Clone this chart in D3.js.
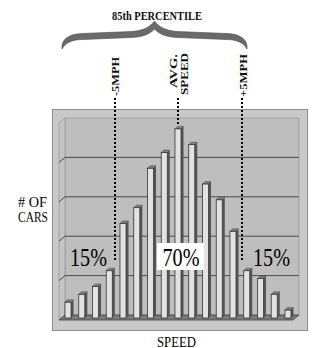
<!DOCTYPE html>
<html>
<head>
<meta charset="utf-8">
<script src="https://cdn.jsdelivr.net/npm/d3@7"></script>
<style>
  body { margin: 0; background: #fff; }
  svg { display: block; font-family: "Liberation Serif", "DejaVu Serif", serif; }
</style>
</head>
<body>
<div class="chart"></div>
<script>
// chart data
const speedBins = d3.range(1, 18).map(String);
const carCounts = [4, 6, 8, 12, 24, 28, 38, 42, 48, 44, 34, 30, 22, 12, 10, 6, 2];
const gridTicks = [0, 10, 20, 30, 40, 50];
const markerLabels = [["-5MPH"], ["AVG.", "SPEED"], ["+5MPH"]];
const markerPos = [3.45, 8, 12.65];   // position in bar units
const shareLabels = ["15%", "70%", "15%"];

const width = 312, height = 348;
const svg = d3.select(".chart").append("svg")
    .attr("width", width)
    .attr("height", height);

// scales
const xScale = d3.scaleBand()
    .domain(speedBins)
    .range([65, 291])
    .paddingInner(0.56)
    .paddingOuter(0);
const yScale = d3.scaleLinear()
    .domain([0, 50])
    .range([320, 123]);
const dx = 6, dy = 5; // depth of the 3d box
const bw = xScale.bandwidth();
const cx = t => Math.round(xScale(speedBins[0]) + bw / 2 + t * xScale.step());

// outer gray panel
svg.append("rect")
    .attr("x", 52.5).attr("y", 109.5)
    .attr("width", 255).attr("height", 221)
    .attr("fill", "#c9c9c9")
    .attr("stroke", "#8c8c8c");

const wallL = 65 - dx, wallR = 299;
// back wall
svg.append("rect")
    .attr("x", 65).attr("y", yScale(50) - dy)
    .attr("width", wallR - 65).attr("height", yScale(0) - yScale(50))
    .attr("fill", "#bebebe")
    .attr("stroke", "#9a9a9a")
    .attr("stroke-width", 0.8);
// left side wall
svg.append("path")
    .attr("d", `M${wallL},${yScale(50)}L65,${yScale(50) - dy}L65,${yScale(0) - dy}L${wallL},${yScale(0)}Z`)
    .attr("fill", "#c4c4c4")
    .attr("stroke", "#9a9a9a")
    .attr("stroke-width", 0.8);

// gridlines
const grid = svg.append("g").attr("class", "grid");
grid.selectAll(".gl").data(gridTicks.slice(1, -1)).enter()
    .append("path")
    .attr("class", "gl")
    .attr("d", d => `M${wallL},${yScale(d)}L65,${yScale(d) - dy}L${wallR},${yScale(d) - dy}`)
    .attr("fill", "none")
    .attr("stroke", "#4a4a4a")
    .attr("stroke-width", 1);

// floor
svg.append("path")
    .attr("d", `M${wallL},${yScale(0)}L65,${yScale(0) - dy}L${wallR},${yScale(0) - dy}L${wallR - dx},${yScale(0)}Z`)
    .attr("fill", "#7a7a7a")
    .attr("stroke", "#444")
    .attr("stroke-width", 0.8);

// dotted marker lines (behind text, through the box)
const markers = svg.append("g").attr("class", "markers");
markers.selectAll("line").data(markerPos).enter()
    .append("line")
    .attr("x1", d => cx(d)).attr("x2", d => cx(d))
    .attr("y1", 98)
    .attr("y2", (d, i) => i === 1 ? yScale(carCounts[8]) - 6 : 262)
    .attr("stroke", "#000")
    .attr("stroke-width", 2)
    .attr("stroke-dasharray", "2,2");

// bars (3d columns)
const by = v => yScale(v) - 2;
const bd = 2.5; // bar depth
const bars = svg.append("g").attr("class", "bars")
    .selectAll("g").data(speedBins.map((b, i) => ({ bin: b, v: carCounts[i] }))).enter()
    .append("g");
bars.append("path")
    .attr("d", d => {
        const x = xScale(d.bin);
        return `M${x + bw},${by(d.v)}L${x + bw + bd},${by(d.v) - bd}L${x + bw + bd},${by(0) - bd}L${x + bw},${by(0)}Z`;
    })
    .attr("fill", "#555");
bars.append("path")
    .attr("d", d => {
        const x = xScale(d.bin);
        return `M${x},${by(d.v)}L${x + bd},${by(d.v) - bd}L${x + bw + bd},${by(d.v) - bd}L${x + bw},${by(d.v)}Z`;
    })
    .attr("fill", "#808080")
    .attr("stroke", "#444")
    .attr("stroke-width", 0.5);
bars.append("rect")
    .attr("x", d => xScale(d.bin))
    .attr("y", d => by(d.v))
    .attr("width", bw)
    .attr("height", d => by(0) - by(d.v))
    .attr("fill", "#e2e2e2")
    .attr("stroke", "#333")
    .attr("stroke-width", 0.8);

// share labels
const shareX = [88.5, 181, 271.5];
svg.append("rect")
    .attr("x", 157).attr("y", 243)
    .attr("width", 47).attr("height", 27)
    .attr("fill", "#fff");
svg.selectAll(".share").data(shareLabels).enter()
    .append("text")
    .attr("class", "share")
    .attr("x", (d, i) => shareX[i])
    .attr("y", 265.5)
    .attr("text-anchor", "middle")
    .attr("font-size", 26)
    .attr("textLength", 37)
    .attr("lengthAdjust", "spacingAndGlyphs")
    .attr("fill", "#000")
    .text(d => d);

// rotated marker labels
const mlab = svg.append("g").attr("class", "marker-labels");
const labLayout = [
    [{ x: 119, y: 96, len: 39 }],
    [{ x: 176.5, y: 88, len: 34 }, { x: 187.5, y: 95, len: 42 }],
    [{ x: 247, y: 97, len: 43 }]
];
markerLabels.forEach((lines, i) => {
    lines.forEach((t, j) => {
        const p = labLayout[i][j];
        mlab.append("text")
            .attr("transform", `translate(${p.x},${p.y}) rotate(-90)`)
            .attr("font-size", 11)
            .attr("font-weight", "bold")
            .attr("textLength", p.len)
            .attr("lengthAdjust", "spacingAndGlyphs")
            .attr("fill", "#111")
            .text(t);
    });
});

// brace and title
svg.append("path")
    .attr("d", "M62,49C61,40 68,34 82,33.5L132,31.5C144,30.5 150,27 154.5,21C159,27 165,30.5 177,31.5L227,33.5C241,34 248,40 247,49C243,42 236,39.5 226,39.5L178,37.5C166,37 159,34 154.5,29C150,34 143,37 131,37.5L83,39.5C73,39.5 66,42 62,49Z")
    .attr("fill", "#6a6a6a")
    .attr("stroke", "#4a4a4a")
    .attr("stroke-width", 0.6);
svg.append("text")
    .attr("x", 157).attr("y", 19.5)
    .attr("text-anchor", "middle")
    .attr("font-size", 11.5)
    .attr("font-weight", "bold")
    .attr("textLength", 90)
    .attr("lengthAdjust", "spacingAndGlyphs")
    .attr("fill", "#111")
    .text("85th PERCENTILE");

// axis titles
svg.append("text")
    .attr("x", 32.5).attr("y", 207)
    .attr("text-anchor", "middle")
    .attr("font-size", 15)
    .attr("textLength", 29)
    .attr("lengthAdjust", "spacingAndGlyphs")
    .attr("fill", "#000")
    .text("# OF");
svg.append("text")
    .attr("x", 33).attr("y", 222)
    .attr("text-anchor", "middle")
    .attr("font-size", 15)
    .attr("textLength", 30)
    .attr("lengthAdjust", "spacingAndGlyphs")
    .attr("fill", "#000")
    .text("CARS");
svg.append("text")
    .attr("x", 176.5).attr("y", 346.5)
    .attr("text-anchor", "middle")
    .attr("font-size", 15)
    .attr("textLength", 39)
    .attr("lengthAdjust", "spacingAndGlyphs")
    .attr("fill", "#000")
    .text("SPEED");
</script>
</body>
</html>
